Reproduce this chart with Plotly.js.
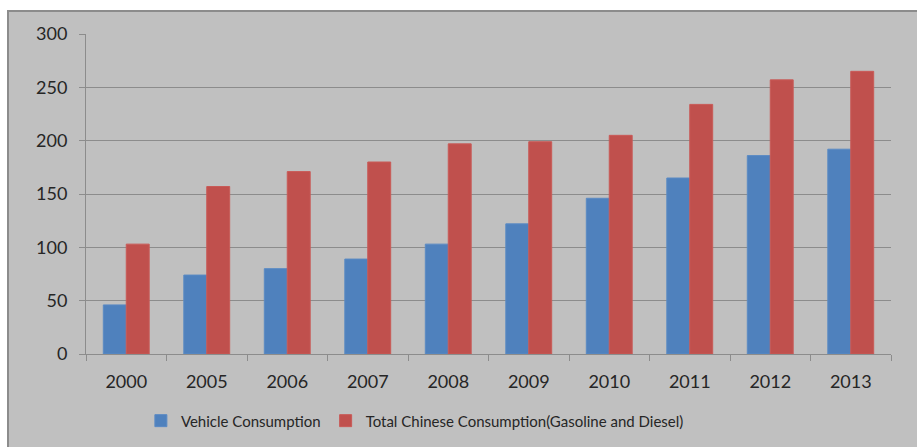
<!DOCTYPE html>
<html>
<head>
<meta charset="utf-8">
<script src="https://cdn.plot.ly/plotly-3.0.1.min.js"></script>
<style>
  html, body { margin: 0; padding: 0; background: #ffffff; width: 917px; height: 447px; overflow: hidden; }
  #frame { position: absolute; left: 7px; top: 10px; width: 910px; height: 437px; border-left: 2px solid #8c8c8c; border-top: 2px solid #8c8c8c; background: #c0c0c0; }
  #chart { position: absolute; left: 0; top: 0; width: 908px; height: 435px; }
</style>
</head>
<body>
<div id="frame"><div id="chart"></div></div>
<script>
const years = ["2000", "2005", "2006", "2007", "2008", "2009", "2010", "2011", "2012", "2013"];
const vehicleConsumption = [46, 74, 80, 89, 103, 122, 146, 165, 186, 192];
const totalConsumption = [103, 157, 171, 180, 197, 199, 205, 234, 257, 265];
const seriesNames = ["Vehicle Consumption", "Total Chinese Consumption(Gasoline and Diesel)"];
const yTicks = [0, 50, 100, 150, 200, 250, 300];

const fam = "Lato, 'Open Sans', sans-serif";
const tickFont = { family: fam, size: 18, color: "#262626" };

const data = [
  { type: "bar", x: years, y: vehicleConsumption, name: seriesNames[0],
    marker: { color: "#4f81bd", line: { color: "#5a8ac4", width: 1 } } },
  { type: "bar", x: years, y: totalConsumption, name: seriesNames[1],
    marker: { color: "#c0504d", line: { color: "#c95a57", width: 1 } } }
];

const layout = {
  width: 908, height: 435,
  margin: { l: 77, r: 26, t: 22, b: 93, autoexpand: false },
  paper_bgcolor: "#c0c0c0", plot_bgcolor: "#c0c0c0",
  font: tickFont,
  barmode: "group", bargap: 0.43, bargroupgap: 0,
  showlegend: true,
  legend: { orientation: "h", xref: "container", yref: "container",
            x: 0.447, xanchor: "center", y: 0.06, yanchor: "middle",
            font: { family: fam, size: 15, color: "#262626" },
            itemwidth: 30, bgcolor: "rgba(0,0,0,0)", traceorder: "normal" },
  xaxis: { type: "category", showgrid: false, showline: true, linecolor: "#8c8c8c", linewidth: 1,
           ticks: "outside", tickson: "boundaries", ticklen: 6, tickcolor: "#8c8c8c",
           tickfont: tickFont, ticklabelstandoff: 11, fixedrange: true },
  yaxis: { range: [0, 300], tickvals: yTicks, showgrid: true, gridcolor: "#8c8c8c", gridwidth: 1,
           showline: true, linecolor: "#8c8c8c", ticks: "outside", ticklen: 6, tickcolor: "#8c8c8c",
           zeroline: false, tickfont: tickFont, ticklabelstandoff: 8, fixedrange: true }
};

Plotly.newPlot("chart", data, layout, { displayModeBar: false, staticPlot: true });
</script>
</body>
</html>
